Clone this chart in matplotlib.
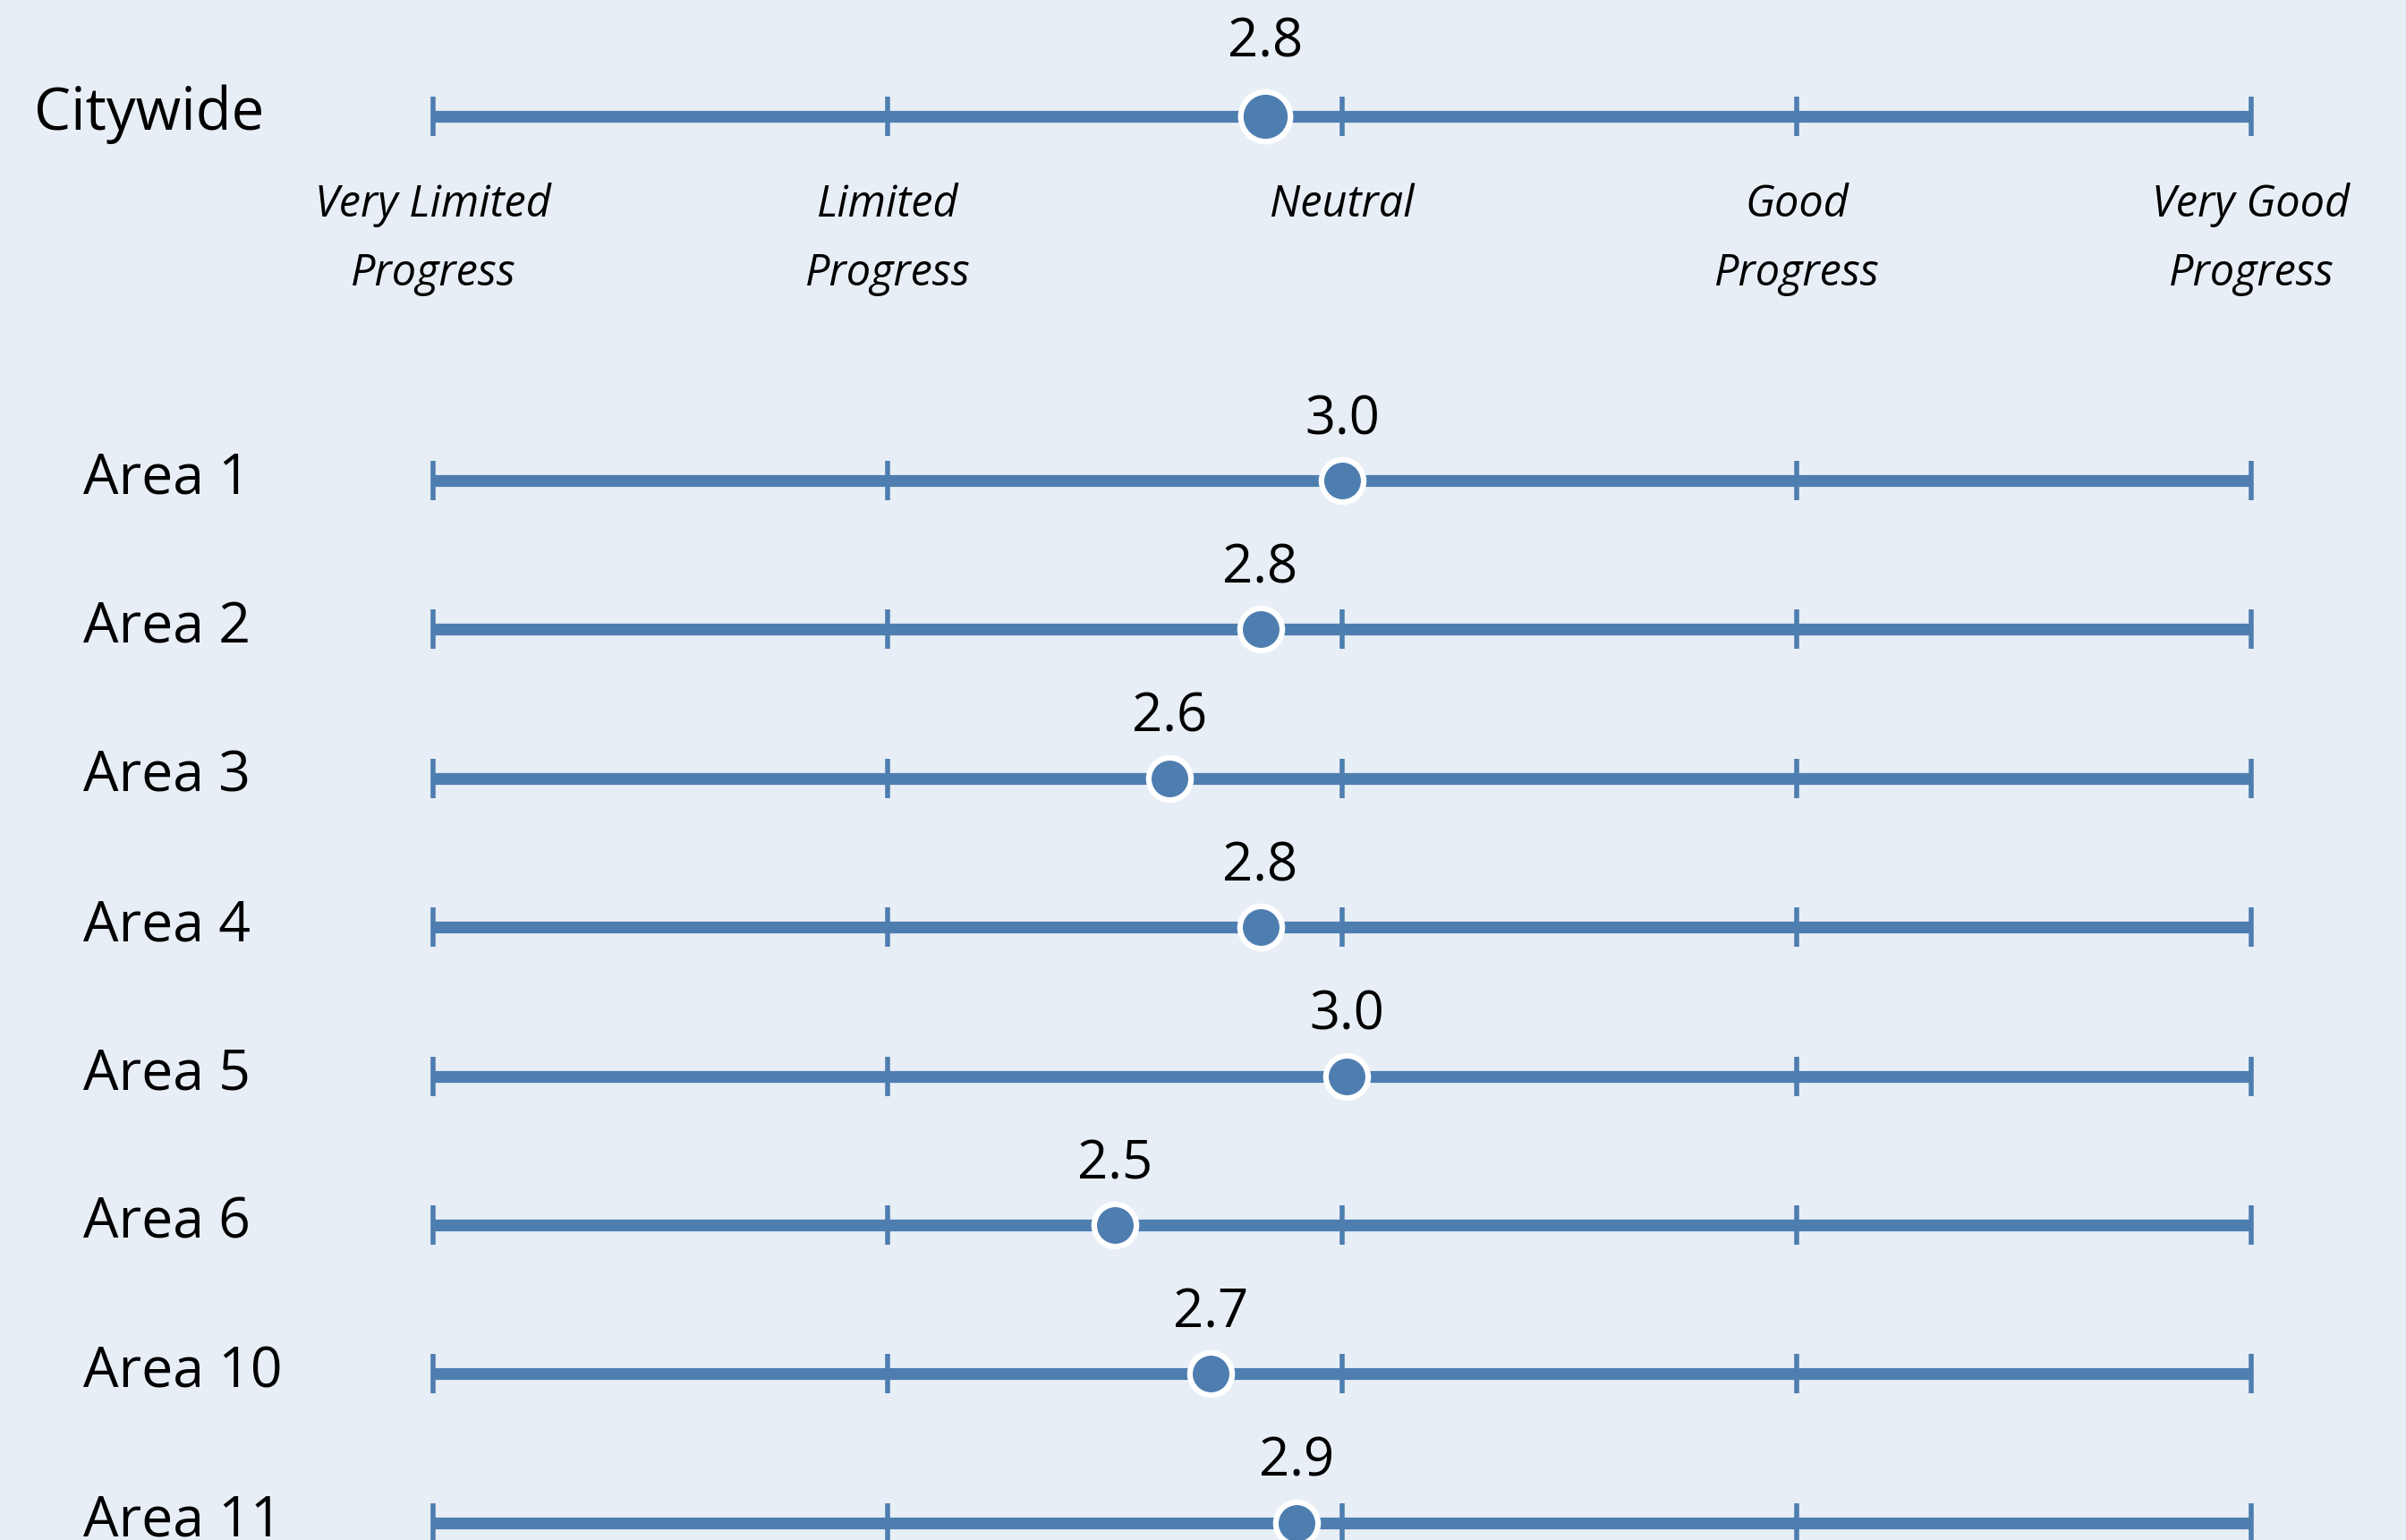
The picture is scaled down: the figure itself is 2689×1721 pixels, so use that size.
import matplotlib
matplotlib.use("Agg")
import matplotlib.pyplot as plt

# scores on a 1-5 scale
row_labels = ["Citywide", "Area 1", "Area 2", "Area 3", "Area 4", "Area 5",
              "Area 6", "Area 10", "Area 11"]
scores = [2.83, 3.00, 2.82, 2.62, 2.82, 3.01, 2.50, 2.71, 2.90]
score_text = ["2.8", "3.0", "2.8", "2.6", "2.8", "3.0", "2.5", "2.7", "2.9"]
scale_ticks = [1, 2, 3, 4, 5]
scale_labels = ["Very Limited\nProgress", "Limited\nProgress", "Neutral",
                "Good\nProgress", "Very Good\nProgress"]

BG = "#E8EEF6"
BLUE = "#4E7EB0"
W, H = 2689, 1721

plt.rcParams['font.family'] = ['Open Sans', 'DejaVu Sans']

fig = plt.figure(figsize=(W / 100, H / 100), dpi=100, facecolor=BG)
ax = fig.add_axes([0, 0, 1, 1])
ax.set_facecolor(BG)

# x: score units, 1 -> 484 px, 5 -> 2516 px ; y: pixel rows (top down)
px_per_unit = (2516 - 484) / 4
ax.set_xlim(1 - 484 / px_per_unit, 5 + (W - 2516) / px_per_unit)
ax.set_ylim(H, 0)
ax.axis('off')

row_y = [130] + [537 + i * 166.4 for i in range(len(row_labels) - 1)]

for i, (name, val, txt, y) in enumerate(zip(row_labels, scores, score_text, row_y)):
    city = i == 0
    ax.plot([scale_ticks[0], scale_ticks[-1]], [y, y], color=BLUE, lw=9.5,
            solid_capstyle='butt', zorder=2)
    ax.vlines(scale_ticks, y - 22, y + 22, color=BLUE, lw=4, zorder=2)
    ax.plot([val], [y], 'o', color=BLUE, mec='white',
            ms=40 if city else 34, mew=4.5, zorder=3)
    ax.text(val, y - (67 if city else 52), txt, ha='center', va='baseline',
            fontsize=43, color='black')
    # row label, px -> data x
    lx = 38 if city else 93
    ax.text(1 + (lx - 484) / px_per_unit, y + 15, name, ha='left',
            va='baseline', fontsize=47 if city else 45, color='black')

for t, lab in zip(scale_ticks, scale_labels):
    lines = lab.split("\n")
    for j, ln in enumerate(lines):
        ax.text(t, 242 + j * 77, ln, ha='center', va='baseline',
                fontsize=35, style='italic', color='black')

fig.savefig("out.png", dpi=100, facecolor=BG)
